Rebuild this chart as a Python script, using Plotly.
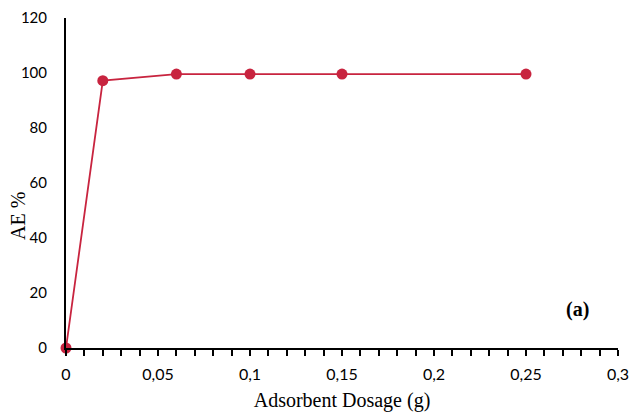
import plotly.graph_objs as go

# adsorbent dosage (g) vs adsorption efficiency (%)
dosage = [0, 0.02, 0.06, 0.1, 0.15, 0.25]
ae_percent = [0, 97.2, 99.6, 99.6, 99.6, 99.6]

x_ticks = [0, 0.05, 0.1, 0.15, 0.2, 0.25, 0.3]
x_labels = ["0", "0,05", "0,1", "0,15", "0,2", "0,25", "0,3"]
y_ticks = [0, 20, 40, 60, 80, 100, 120]

red = "#C8243F"

fig = go.Figure()
fig.add_trace(go.Scatter(
    x=dosage, y=ae_percent, mode="lines+markers",
    line=dict(color=red, width=1.8),
    marker=dict(color=red, size=11),
    cliponaxis=False, showlegend=False
))

fig.update_xaxes(
    range=[0, 0.3], tickvals=x_ticks, ticktext=x_labels,
    showgrid=False, zeroline=False, automargin=False,
    showline=True, linecolor="black", linewidth=2,
    ticks="outside", ticklen=6, tickwidth=2, tickcolor="black",
    ticklabelstandoff=5,
    minor=dict(dtick=0.01, ticks="outside", ticklen=6, tickwidth=2, tickcolor="black"),
    tickfont=dict(family="Lato", size=16, color="black"),
    title=dict(text="Adsorbent Dosage (g)", standoff=11,
               font=dict(family="Liberation Serif", size=20, color="black"))
)
fig.update_yaxes(
    range=[0, 120], tickvals=y_ticks,
    showgrid=False, zeroline=False, automargin=False,
    showline=True, linecolor="black", linewidth=2,
    ticks="", ticklabelstandoff=14,
    tickfont=dict(family="Lato", size=15, color="black"),
)

# y title sits a bit below the middle of the axis, so use an annotation
fig.add_annotation(
    x=-0.087, y=0.40, xref="paper", yref="paper", text="AE %", textangle=-90,
    showarrow=False, xanchor="center", yanchor="middle",
    font=dict(family="Liberation Serif", size=20, color="black")
)

fig.add_annotation(
    x=0.278, y=14, xref="x", yref="y", text="<b>(a)</b>", showarrow=False,
    font=dict(family="Liberation Serif", size=20, color="black")
)

# the page body adds an 8px offset, so the figure is a bit smaller
fig.update_layout(
    width=632, height=407,
    margin=dict(l=58, r=22, t=10, b=67),
    plot_bgcolor="white", paper_bgcolor="white"
)

fig.write_html("out.html")
